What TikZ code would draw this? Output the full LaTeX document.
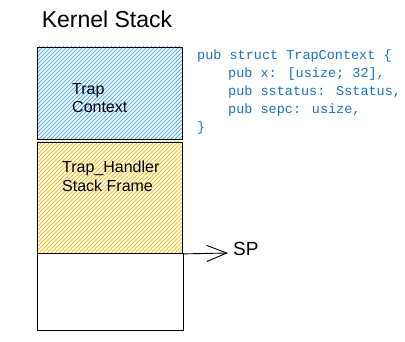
\documentclass[tikz,border=0pt]{standalone}
\usepackage{fontspec}
\setmainfont{Liberation Sans}
\newfontfamily\codefont{Liberation Mono}
\usetikzlibrary{arrows.meta}
\definecolor{codeblue}{HTML}{1971C2}
\definecolor{hatchblue}{HTML}{4DABF7}
\definecolor{hatchorange}{HTML}{FCC419}
\tikzset{
  frame/.style={draw=black, line width=0.9pt, inner sep=0pt, anchor=north west},
  label/.style={font=\fontsize{16}{18.5}\selectfont, align=left, anchor=north west, inner sep=0pt},
  codeline/.style={font=\codefont\fontsize{13.5}{17.5}\selectfont, text=codeblue, anchor=west, inner sep=0pt},
  indent/.style={codeline, xshift=31pt},
}
% diagonal hachure (lower left to upper right) inside a rectangle
\newcommand{\hatchbox}[5]{% x0,y0,x1,y1,colour
  \begin{scope}
    \clip (#1,#2) rectangle (#3,#4);
    \foreach \s in {-150,-146,...,300}{
      \draw[#5, line width=1pt] (#1+\s,#4) -- (#1+\s+140,#4-140);
    }
  \end{scope}}
\begin{document}
\begin{tikzpicture}[x=1pt,y=-1pt]
  \useasboundingbox (0,0) rectangle (405,342);

  % title
  \node[font=\fontsize{23}{27}\selectfont, inner sep=0pt] (title) at (107,19) {Kernel Stack};

  % stack frames
  \hatchbox{37}{47}{182}{139}{hatchblue}
  \hatchbox{37}{142}{182}{253}{hatchorange}
  \node[frame, minimum width=145pt, minimum height=92pt] (ctx) at (37,47) {};
  \node[frame, minimum width=145pt, minimum height=111pt] (handler) at (37,142) {};
  \node[frame, minimum width=146pt, minimum height=77pt] (free) at (37,253) {};

  \node[label] (ctxlabel) at (72,83) {Trap\\Context};
  \node[label] (handlerlabel) at (62,161) {Trap\_Handler\\Stack Frame};

  % stack pointer
  \node[font=\fontsize{19}{21}\selectfont, anchor=west, inner sep=0pt] (sp) at (233,249) {SP};
  \coordinate (sptip) at (228,253);
  \draw[line width=0.9pt, -{Straight Barb[length=20pt, width=16pt, line width=0.9pt]}]
    (handler.south east) -- (sptip);

  % trap context definition
  \node[codeline] (c1) at (197,56) {pub struct TrapContext \{};
  \node[indent] (c2) at (197,74) {pub x: [usize; 32],};
  \node[indent] (c3) at (197,92) {pub sstatus: Sstatus,};
  \node[indent] (c4) at (197,110) {pub sepc: usize,};
  \node[codeline] (c5) at (197,128) {\}};
\end{tikzpicture}
\end{document}
